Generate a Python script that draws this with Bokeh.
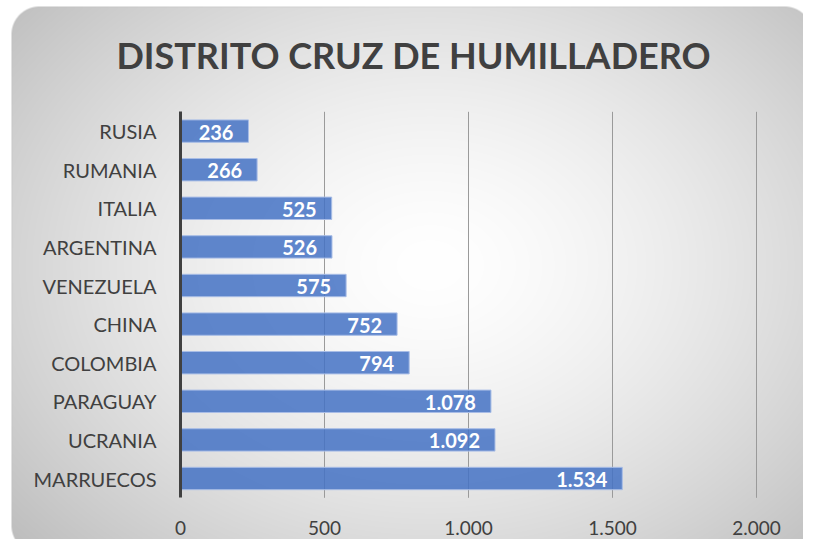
import numpy as np
from bokeh.plotting import figure
from bokeh.models import Range1d, LinearAxis, FixedTicker, Label
from bokeh.core.properties import value
from bokeh.embed import file_html
from bokeh.resources import INLINE

# ---------------- data ----------------
title_text = "DISTRITO CRUZ DE HUMILLADERO"
countries = ["RUSIA", "RUMANIA", "ITALIA", "ARGENTINA", "VENEZUELA",
             "CHINA", "COLOMBIA", "PARAGUAY", "UCRANIA", "MARRUECOS"]
counts = [236, 266, 525, 526, 575, 752, 794, 1078, 1092, 1534]
x_ticks = [0, 500, 1000, 1500, 2000]
x_tick_labels = ["0", "500", "1.000", "1.500", "2.000"]

# ---------------- layout ----------------
W, H = 803, 539
x0_px = 180.0          # canvas x of value 0
px_per_unit = 0.288
row_px = 38.6
bottom_row_px = 478.0  # canvas y of last category centre
FONT = "Lato"
TXT = "#404040"

n = len(countries)
ypos = [n - 1 - i for i in range(n)]
x_start = -x0_px / px_per_unit
x_end = (W - x0_px) / px_per_unit
y_end = bottom_row_px / row_px
y_start = (bottom_row_px - H) / row_px

p = figure(width=W, height=H, x_range=Range1d(x_start, x_end),
           y_range=Range1d(y_start, y_end), x_axis_type=None, y_axis_type=None,
           output_backend="svg", toolbar_location=None, min_border=0)
p.outline_line_color = None
p.background_fill_color = "white"
p.border_fill_color = "white"

# ---------------- background card (radial gradient, rounded) ----------------
yy, xx = np.mgrid[0:H, 0:W].astype(float)
px = xx + 0.5
py = yy + 0.5
cx, cy, rx, ry = 430.0, 265.0, 450.0, 340.0
t = np.sqrt(((px - cx) / rx) ** 2 + ((py - cy) / ry) ** 2)
g = 255.0 - 48.0 * np.clip(t, 0, 1.25) ** 1.5
L, R, T, B, rad = 11.0, 812.0, 6.0, 553.0, 28.0
mx, my = (L + R) / 2, (T + B) / 2
hx, hy = (R - L) / 2, (B - T) / 2
qx = np.maximum(np.abs(px - mx) - (hx - rad), 0)
qy = np.maximum(np.abs(py - my) - (hy - rad), 0)
d = np.sqrt(qx ** 2 + qy ** 2)
a = np.clip(rad - d + 0.5, 0, 1)
edge = np.clip(1.0 - np.abs(rad - d - 0.5), 0, 1) * 0.35
col = (g * (1 - edge) + 190 * edge) * a + 255 * (1 - a)
img = np.empty((H, W), dtype=np.uint32)
v = img.view(dtype=np.uint8).reshape((H, W, 4))
c8 = np.clip(col, 0, 255).astype(np.uint8)
v[:, :, 0] = c8
v[:, :, 1] = c8
v[:, :, 2] = c8
v[:, :, 3] = 255
img = np.ascontiguousarray(img[::-1])
p.image_rgba(image=[img], x=x_start, y=y_start, dw=x_end - x_start, dh=y_end - y_start)

# ---------------- grid lines ----------------
grid_x = [tk for tk in x_ticks if tk > 0]
p.segment(x0=grid_x, y0=[-0.5] * len(grid_x), x1=grid_x, y1=[n - 0.5] * len(grid_x),
          line_color="#9a9a9a", line_width=1)

# ---------------- bars ----------------
p.hbar(y=ypos, left=0, right=counts, height=0.58, fill_color="#4472C4",
       fill_alpha=0.85, line_color="#a8bde6", line_width=1)

bar_labels = [f"{c:,}".replace(",", ".") for c in counts]
p.text(x=counts, y=ypos, text=bar_labels, text_align="right", text_baseline="middle",
       x_offset=-15, y_offset=1, text_color="white", text_font_style="bold",
       text_font_size="20px", text_font=value(FONT))

# ---------------- axes ----------------
yaxis = LinearAxis(fixed_location=0, ticker=FixedTicker(ticks=ypos),
                   major_label_overrides={yv: c for yv, c in zip(ypos, countries)},
                   bounds=(-0.5, n - 0.5))
yaxis.axis_line_color = "#404040"
yaxis.axis_line_width = 3
yaxis.major_tick_line_color = None
yaxis.minor_tick_line_color = None
yaxis.major_label_standoff = 18
yaxis.major_label_text_font = FONT
yaxis.major_label_text_font_size = "20px"
yaxis.major_label_text_color = TXT
p.add_layout(yaxis, "left")

xaxis = LinearAxis(fixed_location=-0.5, ticker=FixedTicker(ticks=x_ticks),
                   major_label_overrides=dict(zip(x_ticks, x_tick_labels)))
xaxis.axis_line_color = None
xaxis.major_tick_line_color = None
xaxis.minor_tick_line_color = None
xaxis.major_label_standoff = 17
xaxis.major_label_text_font = FONT
xaxis.major_label_text_font_size = "19px"
xaxis.major_label_text_color = TXT
p.add_layout(xaxis, "below")

# ---------------- title ----------------
p.add_layout(Label(x=413, y=H - 54, x_units="screen", y_units="screen", text=title_text,
                   text_align="center", text_baseline="middle", text_font=FONT,
                   text_font_style="bold", text_font_size="36px", text_color=TXT))

open("out.html", "w").write(file_html(p, INLINE))
